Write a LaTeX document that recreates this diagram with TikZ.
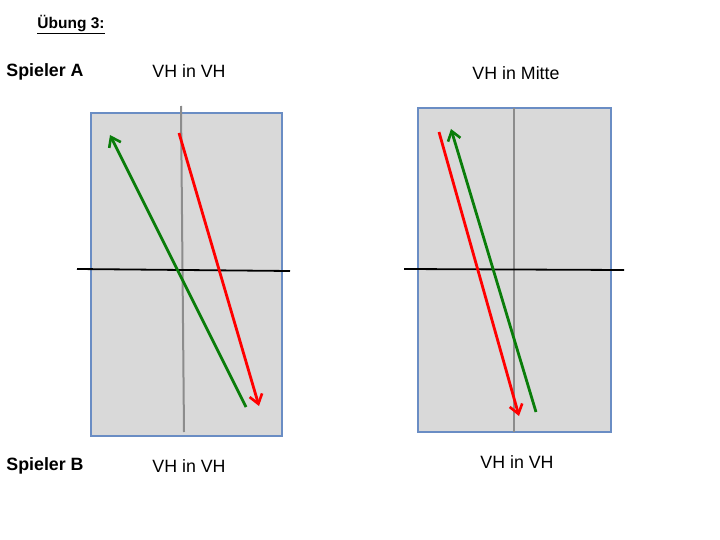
\documentclass[tikz,border=0pt]{standalone}
\usepackage{fontspec}
\setmainfont{Liberation Sans}
\usetikzlibrary{arrows.meta}
\definecolor{courtfill}{HTML}{D9D9D9}
\definecolor{courtedge}{HTML}{6A8DC4}
\definecolor{netgrey}{HTML}{8C8C8C}
\definecolor{ballgreen}{HTML}{0A7D0A}
\definecolor{ballred}{HTML}{FF0000}
\begin{document}
\begin{tikzpicture}[x=1pt,y=-1pt,
  court/.style={fill=courtfill,draw=courtedge,line width=2pt},
  midline/.style={draw=netgrey,line width=2pt},
  baseline/.style={draw=black,line width=1.8pt},
  shot/.style={line width=2.8pt,-{Straight Barb[length=9pt,width=13pt,line width=2.6pt]}},
  lbl/.style={font=\fontsize{17.8}{20}\selectfont,inner sep=0pt},
  blbl/.style={font=\fontsize{17.8}{20}\selectfont\bfseries,inner sep=0pt}]
\useasboundingbox (0,0) rectangle (720,540);
% title
\node[inner sep=0pt,font=\fontsize{15.5}{17}\selectfont\bfseries] (title) at (71,25) {\underline{Übung 3:}};
\node[blbl] (spa) at (45,72) {Spieler A};
\node[blbl] (spb) at (45,466) {Spieler B};
\node[lbl] (t1) at (189,71) {VH in VH};
\node[lbl] (t2) at (516,73) {VH in Mitte};
\node[lbl] (t3) at (189,466) {VH in VH};
\node[lbl] (t4) at (517,462) {VH in VH};
% left court
\draw[court] (91,113) rectangle (282,436);
\coordinate (lv1) at (181,106); \coordinate (lv2) at (184,432);
\draw[midline] (lv1) -- (lv2);
\coordinate (lh1) at (77,269); \coordinate (lh2) at (290,271);
\draw[baseline] (lh1) -- (lh2);
\coordinate (lg1) at (246,407); \coordinate (lg2) at (110,135);
\draw[shot,draw=ballgreen] (lg1) -- (lg2);
\coordinate (lr1) at (179,133); \coordinate (lr2) at (259,406);
\draw[shot,draw=ballred] (lr1) -- (lr2);
% right court
\draw[court] (418,108) rectangle (611,432);
\coordinate (rv1) at (514,108); \coordinate (rv2) at (514,432);
\draw[midline] (rv1) -- (rv2);
\coordinate (rh1) at (404,269); \coordinate (rh2) at (624,270);
\draw[baseline] (rh1) -- (rh2);
\coordinate (rr1) at (439,132); \coordinate (rr2) at (519,416);
\draw[shot,draw=ballred] (rr1) -- (rr2);
\coordinate (rg1) at (536,412); \coordinate (rg2) at (451,129);
\draw[shot,draw=ballgreen] (rg1) -- (rg2);
\end{tikzpicture}
\end{document}
